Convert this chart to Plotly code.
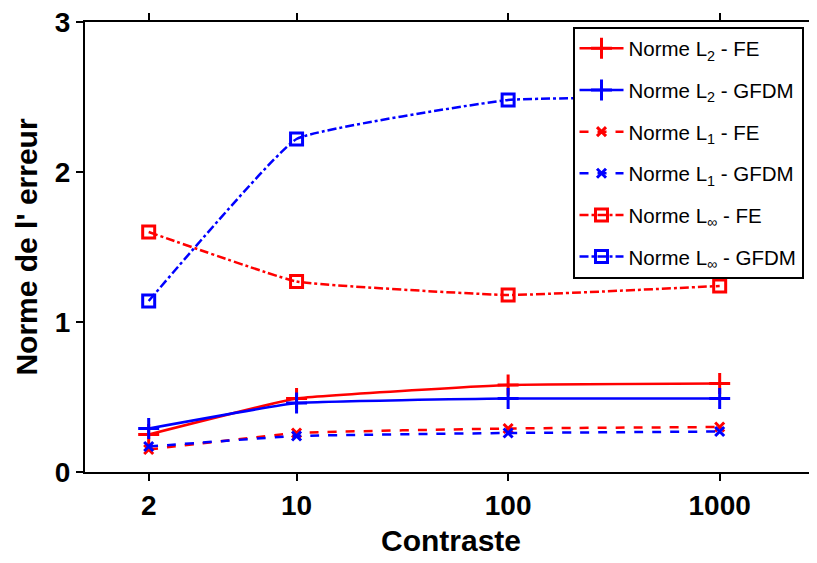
import plotly.graph_objects as go

contraste = [2, 10, 100, 1000]
l2_fe = [0.25, 0.49, 0.58, 0.59]
l2_gfdm = [0.29, 0.46, 0.49, 0.49]
l1_fe = [0.15, 0.26, 0.29, 0.30]
l1_gfdm = [0.17, 0.24, 0.26, 0.27]
linf_fe = [1.60, 1.27, 1.18, 1.24]
linf_gfdm = [1.14, 2.22, 2.48, 2.50]

names = ["Norme L<sub>2</sub> - FE", "Norme L<sub>2</sub> - GFDM",
         "Norme L<sub>1</sub> - FE", "Norme L<sub>1</sub> - GFDM",
         "Norme L<sub>∞</sub> - FE", "Norme L<sub>∞</sub> - GFDM"]

RED = "#ff0000"
BLUE = "#0000ff"

series = [
    (l2_fe, RED, "solid", "cross-thin", 15),
    (l2_gfdm, BLUE, "solid", "cross-thin", 15),
    (l1_fe, RED, "dash", "x-thin", 9),
    (l1_gfdm, BLUE, "dash", "x-thin", 9),
    (linf_fe, RED, "dashdot", "square-open", 12),
    (linf_gfdm, BLUE, "dashdot", "square-open", 12),
]

fig = go.Figure()
for i, (vals, col, dash, sym, sz) in enumerate(series):
    fig.add_trace(go.Scatter(
        x=contraste, y=vals, name=names[i], mode="lines+markers",
        legendgroup=f"g{i}",
        line=dict(color=col, width=2.5, dash=dash, shape="spline", smoothing=0.3),
        marker=dict(symbol=sym, size=sz, color=col, line=dict(color=col, width=3)),
    ))

tick_font = dict(family="Liberation Sans, Arial, sans-serif", size=28, color="black", weight="bold")
title_font = dict(family="Liberation Sans, Arial, sans-serif", size=30, color="black", weight="bold")

fig.update_layout(
    width=809, height=555,
    margin=dict(l=77, r=0, t=14, b=91),
    plot_bgcolor="white", paper_bgcolor="white",
    font=dict(family="Liberation Sans, Arial, sans-serif", color="black"),
    showlegend=True,
    legend=dict(
        x=0.666, y=0.99, xanchor="left", yanchor="top",
        bgcolor="white", bordercolor="black", borderwidth=2,
        font=dict(family="Liberation Sans, Arial, sans-serif", size=20.5, color="black"),
        traceorder="grouped", tracegroupgap=12,
        itemwidth=44,
    ),
    xaxis=dict(
        type="log", range=[0, 3.46], automargin=False,
        tickvals=contraste, ticktext=[str(c) for c in contraste],
        ticks="outside", ticklen=7, tickwidth=2, tickcolor="black",
        showline=True, linecolor="black", linewidth=2, mirror="ticks",
        showgrid=False, zeroline=False,
        tickfont=tick_font, ticklabeloverflow="allow",
        title=dict(text="Contraste", font=title_font, standoff=10),
    ),
    yaxis=dict(
        range=[0, 3], tickvals=[0, 1, 2, 3], automargin=False,
        ticks="outside", ticklen=7, tickwidth=2, tickcolor="black",
        showline=True, linecolor="black", linewidth=2, mirror=False,
        showgrid=False, zeroline=False,
        tickfont=tick_font, ticklabeloverflow="allow",
        title=dict(text="Norme de l' erreur", font=title_font, standoff=8),
    ),
)

fig.write_html("out.html")
